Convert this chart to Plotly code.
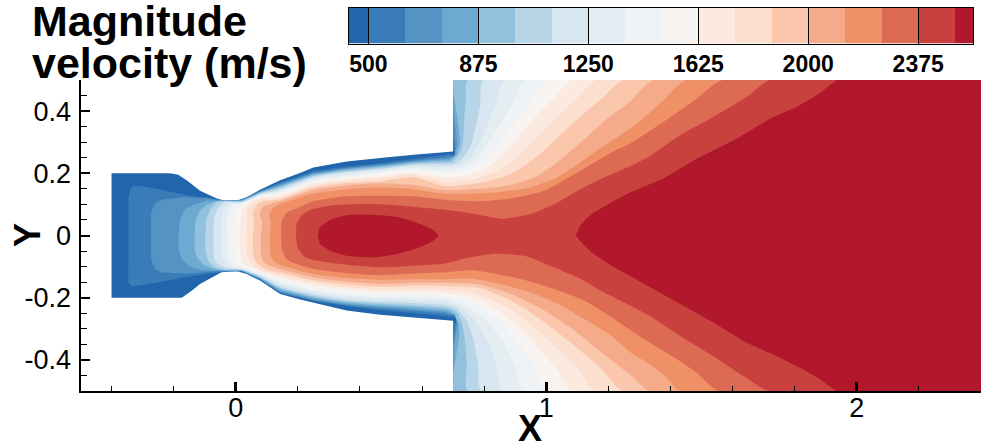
import plotly.graph_objects as go

width = 1001
height = 445

# velocity levels and band colours (colours[0] is below 500, colours[-1] above 2500)
levels = [500, 625, 750, 875, 1000, 1125, 1250, 1375, 1500, 1625, 1750, 1875, 2000, 2125, 2250, 2375, 2500]
colours = ['#2166ac', '#3a7cb8', '#5493c3', '#6caad1', '#92c1dd', '#b9d5e8', '#d7e6f0', '#e4edf1', '#eff3f5',
           '#f7f4f1', '#fce9e0', '#fcdfcf', '#fac6ac', '#f5aa89', '#f09067', '#dd6a52', '#c9413e', '#b2182b']
bar_edges = [434] + levels + [2562]
bar_ticks = [500, 875, 1250, 1625, 2000, 2375]
x_ticks = [0, 1, 2]
y_ticks = [-0.4, -0.2, 0, 0.2, 0.4]
y_labels = ['-0.4', '-0.2', '0', '0.2', '0.4']

# nozzle wall
wall_up = [(-.4, .2), (-.212, .2), (-.185, .195), (-.156, .176), (-.115, .144), (-.061, .119), (-.035, .112),
           (.003, .112), (.035, .123), (.078, .147), (.143, .178), (.207, .201), (.25, .219), (.357, .238),
           (.465, .249), (.572, .26), (.70, .27), (.70, .5)]
wall_low = [(-.4, -.2), (-.174, -.2), (-.142, -.178), (-.115, -.156), (-.077, -.135), (-.041, -.116), (-.019, -.113),
            (.003, -.114), (.035, -.124), (.078, -.145), (.143, -.188), (.207, -.206), (.25, -.217), (.357, -.241),
            (.465, -.255), (.572, -.264), (.70, -.274), (.70, -.5)]

# iso-velocity lines: throat part, then y at the nozzle stations, then the jet part. One row per level.
nozzle_x = [.1425, .25, .357, .465, .572, .674]

head_up = [
    [(-.346, 0), (-.346, .117), (-.341, .149), (-.33, .16), (-.298, .158), (-.223, .144), (-.158, .13), (-.094, .117), (-.051, .111), (-.008, .113), (.019, .115), (.078, .144)],
    [(-.273, 0), (-.273, .074), (-.26, .104), (-.239, .115), (-.169, .123), (-.094, .121), (-.051, .113), (-.008, .112), (.019, .114), (.078, .142)],
    [(-.185, 0), (-.18, .048), (-.164, .085), (-.131, .101), (-.094, .112), (-.051, .112), (-.008, .111), (.019, .113), (.078, .14)],
    [(-.133, 0), (-.129, .048), (-.115, .08), (-.094, .098), (-.067, .109), (-.008, .11), (.019, .111), (.078, .138)],
    [(-.098, 0), (-.094, .053), (-.078, .09), (-.056, .109), (-.008, .109), (.019, .11), (.078, .135)],
    [(-.072, 0), (-.07, .053), (-.056, .09), (-.035, .109), (-.008, .108), (.019, .107), (.078, .133)],
    [(-.049, 0), (-.047, .053), (-.035, .09), (-.013, .106), (.019, .105), (.078, .131)],
    [(-.027, 0), (-.027, .064), (-.016, .09), (-.002, .102), (.019, .102), (.078, .128)],
    [(-.008, 0), (-.006, .053), (.003, .085), (.019, .096), (.078, .125)],
    [(.014, 0), (.016, .048), (.022, .085), (.04, .104), (.078, .12)],
    [(.035, 0), (.037, .048), (.037, .08), (.051, .101), (.078, .116)],
    [(.055, 0), (.059, .042), (.055, .074), (.068, .098), (.089, .11)],
    [(.081, 0), (.085, .042), (.078, .069), (.089, .094), (.116, .104)],
    [(.11, 0), (.112, .042), (.108, .069), (.121, .09)],
    [(.146, 0), (.148, .047), (.164, .074), (.196, .087), (.25, .11), (.357, .126), (.465, .128), (.572, .126), (.674, .115)],
    [(.194, 0), (.196, .037), (.212, .064), (.239, .082), (.304, .096), (.411, .101), (.507, .098), (.593, .09), (.674, .083)],
]
nozzle_up = [
    [.17, .207, .222, .232, .245, .258],
    [.166, .202, .218, .228, .241, .251],
    [.162, .199, .215, .225, .238, .246],
    [.158, .196, .212, .222, .235, .241],
    [.154, .191, .207, .218, .231, .235],
    [.148, .187, .204, .214, .227, .228],
    [.144, .183, .199, .21, .222, .219],
    [.14, .177, .192, .205, .217, .209],
    [.134, .172, .187, .198, .21, .199],
    [.129, .167, .182, .19, .2, .186],
    [.122, .16, .175, .183, .195, .172],
    [.116, .154, .169, .174, .187, .159],
    [.11, .146, .161, .168, .162, .146],
    [.101, .135, .149, .154, .149, .134],
    [],
    [],
]
tail_up = [
    [(.693, .262), (.706, .258), (.709, .266), (.701, .274), (.70, .5)],
    [(.683, .256), (.698, .249), (.709, .263), (.706, .29), (.701, .322), (.70, .5)],
    [(.685, .247), (.704, .256), (.713, .295), (.708, .343), (.701, .397), (.70, .5)],
    [(.69, .241), (.712, .26), (.722, .301), (.719, .343), (.709, .408), (.701, .461), (.70, .5)],
    [(.695, .236), (.722, .266), (.733, .311), (.736, .376), (.741, .44), (.747, .5)],
    [(.701, .228), (.728, .247), (.755, .284), (.771, .343), (.787, .418), (.799, .5)],
    [(.722, .226), (.755, .252), (.787, .301), (.814, .365), (.84, .429), (.867, .5)],
    [(.738, .22), (.781, .252), (.819, .306), (.856, .365), (.894, .429), (.935, .5)],
    [(.76, .213), (.808, .247), (.856, .306), (.905, .37), (.958, .44), (1.007, .5)],
    [(.728, .19), (.792, .209), (.851, .252), (.905, .311), (.964, .381), (1.028, .445), (1.082, .5)],
    [(.76, .179), (.835, .204), (.899, .247), (.964, .311), (1.028, .376), (1.098, .44), (1.162, .5)],
    [(.803, .172), (.899, .204), (.975, .258), (1.044, .322), (1.114, .386), (1.184, .445), (1.248, .5)],
    [(.781, .15), (.889, .163), (.975, .193), (1.044, .242), (1.119, .306), (1.189, .37), (1.27, .431), (1.345, .5)],
    [(.728, .134), (.835, .138), (.942, .153), (1.028, .183), (1.103, .231), (1.179, .284), (1.27, .343), (1.323, .386), (1.377, .435), (1.45, .5)],
    [(.781, .11), (.889, .12), (.996, .145), (1.103, .204), (1.211, .268), (1.27, .296), (1.377, .365), (1.484, .44), (1.567, .5)],
    [(.738, .075), (.803, .063), (.862, .054), (.953, .07), (1.028, .102), (1.103, .145), (1.179, .183), (1.27, .223), (1.334, .256), (1.431, .322), (1.538, .381), (1.645, .445), (1.721, .5)],
]

head_low = [
    [(-.346, -.097), (-.346, -.151), (-.335, -.164), (-.276, -.156), (-.169, -.135), (-.094, -.123), (-.051, -.118), (-.008, -.116), (.019, -.115), (.078, -.142)],
    [(-.273, -.076), (-.26, -.108), (-.239, -.119), (-.169, -.122), (-.115, -.12), (-.067, -.115), (-.018, -.114), (.019, -.114), (.078, -.14)],
    [(-.185, -.044), (-.174, -.076), (-.153, -.097), (-.115, -.11), (-.072, -.113), (-.018, -.113), (.019, -.113), (.078, -.138)],
    [(-.133, -.044), (-.126, -.07), (-.104, -.095), (-.072, -.108), (-.035, -.112), (.019, -.112), (.078, -.136)],
    [(-.098, -.049), (-.088, -.081), (-.067, -.103), (-.035, -.11), (.019, -.111), (.078, -.134)],
    [(-.072, -.049), (-.067, -.081), (-.049, -.099), (-.018, -.107), (.019, -.109), (.078, -.13)],
    [(-.049, -.049), (-.044, -.076), (-.031, -.095), (-.008, -.104), (.019, -.107), (.078, -.127)],
    [(-.027, -.049), (-.024, -.076), (-.013, -.093), (.019, -.104), (.078, -.124)],
    [(-.006, -.049), (-.002, -.076), (.005, -.09), (.019, -.1), (.078, -.12)],
    [(.014, -.044), (.018, -.076), (.03, -.093), (.078, -.115)],
    [(.035, -.044), (.04, -.07), (.051, -.089), (.078, -.11)],
    [(.055, -.044), (.059, -.07), (.068, -.089), (.1, -.11)],
    [(.081, -.044), (.083, -.07), (.094, -.089), (.116, -.1)],
    [(.11, -.044), (.112, -.065), (.121, -.081)],
    [(.148, -.043), (.164, -.076), (.196, -.092), (.25, -.108), (.357, -.121), (.465, -.127), (.572, -.122), (.674, -.118)],
    [(.198, -.038), (.223, -.07), (.25, -.079), (.357, -.094), (.465, -.102), (.572, -.097), (.674, -.09)],
]
nozzle_low = [
    [-.185, -.211, -.227, -.24, -.249, -.259],
    [-.182, -.208, -.224, -.235, -.242, -.251],
    [-.179, -.205, -.221, -.23, -.237, -.245],
    [-.174, -.2, -.216, -.225, -.231, -.239],
    [-.169, -.196, -.212, -.219, -.225, -.232],
    [-.164, -.19, -.207, -.213, -.217, -.224],
    [-.157, -.184, -.199, -.205, -.209, -.214],
    [-.15, -.176, -.192, -.198, -.2, -.205],
    [-.142, -.169, -.183, -.189, -.19, -.195],
    [-.135, -.16, -.174, -.182, -.181, -.184],
    [-.127, -.153, -.166, -.173, -.171, -.173],
    [-.119, -.144, -.157, -.165, -.161, -.163],
    [-.108, -.135, -.148, -.156, -.152, -.152],
    [-.094, -.124, -.137, -.143, -.141, -.141],
    [],
    [],
]
tail_low = [
    [(.693, -.263), (.708, -.264), (.71, -.278), (.70, -.283), (.70, -.5)],
    [(.685, -.255), (.701, -.254), (.713, -.272), (.706, -.302), (.701, -.334), (.70, -.5)],
    [(.685, -.248), (.706, -.257), (.715, -.286), (.709, -.313), (.701, -.361), (.70, -.5)],
    [(.685, -.241), (.706, -.254), (.719, -.286), (.72, -.323), (.712, -.377), (.701, -.441), (.70, -.5)],
    [(.69, -.235), (.712, -.248), (.728, -.28), (.738, -.334), (.744, -.42), (.747, -.5)],
    [(.69, -.227), (.717, -.24), (.744, -.275), (.765, -.334), (.781, -.42), (.792, -.5)],
    [(.695, -.219), (.728, -.235), (.771, -.275), (.808, -.334), (.84, -.42), (.859, -.5)],
    [(.706, -.214), (.749, -.232), (.803, -.27), (.856, -.334), (.899, -.42), (.928, -.5)],
    [(.728, -.205), (.781, -.227), (.846, -.275), (.91, -.345), (.964, -.42), (1.001, -.5)],
    [(.738, -.193), (.814, -.221), (.889, -.275), (.964, -.35), (1.034, -.431), (1.082, -.5)],
    [(.76, -.184), (.856, -.221), (.942, -.28), (1.028, -.356), (1.103, -.431), (1.159, -.5)],
    [(.781, -.168), (.889, -.211), (.996, -.28), (1.093, -.356), (1.179, -.431), (1.248, -.5)],
    [(.781, -.157), (.889, -.189), (.996, -.243), (1.093, -.307), (1.179, -.377), (1.27, -.447), (1.332, -.5)],
    [(.76, -.139), (.856, -.157), (.953, -.184), (1.039, -.221), (1.125, -.27), (1.211, -.323), (1.27, -.375), (1.334, -.414), (1.388, -.457), (1.429, -.5)],
    [(.76, -.112), (.846, -.125), (.942, -.146), (1.028, -.173), (1.125, -.211), (1.211, -.264), (1.27, -.304), (1.334, -.345), (1.431, -.404), (1.484, -.441), (1.557, -.5)],
    [(.749, -.071), (.835, -.059), (.932, -.066), (1.028, -.104), (1.103, -.136), (1.179, -.179), (1.27, -.225), (1.334, -.259), (1.431, -.323), (1.538, -.388), (1.635, -.452), (1.718, -.5)],
]

# the two zones above 2500
core = [(.264, 0), (.271, .026), (.304, .05), (.357, .065), (.432, .067), (.518, .06), (.593, .037), (.635, .018), (.653, 0),
        (.635, -.018), (.593, -.038), (.518, -.06), (.443, -.07), (.357, -.065), (.304, -.049), (.271, -.028)]
wedge_up = [(1.095, 0), (1.109, .033), (1.146, .07), (1.211, .108), (1.27, .138), (1.377, .183), (1.484, .247),
            (1.613, .311), (1.721, .376), (1.806, .413), (1.871, .451), (1.935, .5)]
wedge_low = [(1.114, -.023), (1.146, -.055), (1.211, -.098), (1.27, -.13), (1.377, -.189), (1.463, -.238),
             (1.538, -.28), (1.645, -.345), (1.753, -.393), (1.828, -.431), (1.882, -.463), (1.933, -.5)]


def band(points, colour, shape='linear'):
    return go.Scatter(x=[p[0] for p in points], y=[p[1] for p in points], mode='lines', fill='toself',
                      fillcolor=colour, line=dict(width=0, color=colour, shape=shape, smoothing=.6),
                      hoverinfo='skip', showlegend=False)


def region(up, low):
    # closes along the top edge, the outlet and the bottom edge of the domain
    return up + [(2.4, .5), (2.4, -.5)] + low[::-1]


def label(text, x, y, size, **kw):
    return dict(text=text, xref='paper', yref='paper', x=x / width, y=1 - y / height, showarrow=False,
                font=dict(family='Liberation Sans', size=size, color='black', weight='bold'), **kw)


fig = go.Figure()

fig.add_trace(band(wall_up + [(2.4, .5), (2.4, -.5)] + wall_low[::-1], colours[0]))

for i in range(16):
    up = head_up[i] + list(zip(nozzle_x, nozzle_up[i])) + tail_up[i]
    low = head_low[i] + list(zip(nozzle_x, nozzle_low[i])) + tail_low[i]
    fig.add_trace(band(region(up, low), colours[i + 1], 'spline' if i > 3 else 'linear'))

fig.add_trace(band(core, colours[-1], 'spline'))
fig.add_trace(band(region(wedge_up, wedge_low), colours[-1]))

# colour bar drawn on its own axes so the separators can be full height
n = len(colours)
scale = []
for i, c in enumerate(colours):
    scale += [[i / n, c], [(i + 1) / n, c]]
fig.add_trace(go.Heatmap(x=bar_edges, y=[0, 1], z=[[i + .5 for i in range(n)]], zmin=0, zmax=n, colorscale=scale,
                         showscale=False, hoverinfo='skip', xaxis='x2', yaxis='y2'))

tick_font = dict(family='Liberation Sans', size=27, color='black')

fig.update_layout(
    width=width, height=height, autosize=False,
    margin=dict(l=0, r=0, t=0, b=0),
    paper_bgcolor='white', plot_bgcolor='white',
    showlegend=False,
    xaxis=dict(
        domain=[80.5 / width, 981 / width], range=[-.5, 2.4],
        showgrid=False, zeroline=False, showline=True, linecolor='black', linewidth=2,
        tickmode='array', tickvals=x_ticks, ticks='inside', ticklen=9, tickwidth=3, tickcolor='black',
        tickfont=tick_font, ticklabelstandoff=-8,
        minor=dict(tick0=0, dtick=.2, ticks='inside', ticklen=5, tickwidth=1, tickcolor='black'),
    ),
    yaxis=dict(
        domain=[(height - 391) / height, (height - 80) / height], range=[-.5, .5],
        showgrid=False, zeroline=False, showline=True, linecolor='black', linewidth=2,
        tickmode='array', tickvals=y_ticks, ticktext=y_labels, ticks='inside', ticklen=9, tickwidth=2, tickcolor='black',
        tickfont=tick_font, ticklabelstandoff=2,
        minor=dict(tick0=0, dtick=.05, ticks='inside', ticklen=6, tickwidth=1, tickcolor='black'),
    ),
    xaxis2=dict(
        domain=[349 / width, 973 / width], range=[434, 2562], anchor='y2',
        showgrid=False, zeroline=False, showline=True, mirror=True, linecolor='black', linewidth=1,
        tickmode='array', tickvals=bar_ticks, ticks='inside', ticklen=36, tickwidth=1, tickcolor='black',
        tickfont=dict(family='Liberation Sans', size=23, color='black', weight='bold'),
    ),
    yaxis2=dict(
        domain=[(height - 43.5) / height, (height - 7.5) / height], range=[0, 1], anchor='x2',
        showgrid=False, zeroline=False, showline=True, mirror=True, linecolor='black', linewidth=1,
        showticklabels=False, ticks='',
    ),
    annotations=[
        label('Magnitude', 30, 21, 43, xanchor='left', yanchor='middle'),
        label('velocity (m/s)', 30, 63, 43, xanchor='left', yanchor='middle'),
        label('X', 530, 428, 36, xanchor='center', yanchor='middle'),
        label('Y', 28, 235, 36, xanchor='center', yanchor='middle', textangle=-90),
    ],
)

fig.write_html("out.html", config=dict(displayModeBar=False), post_script="document.body.style.margin = '0';")
